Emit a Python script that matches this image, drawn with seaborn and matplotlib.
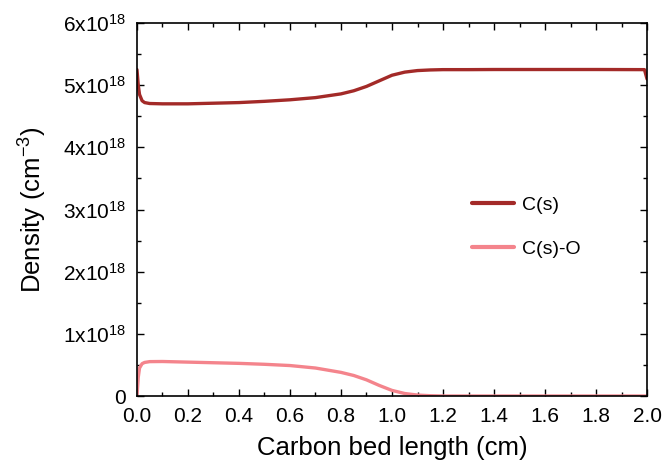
import matplotlib
matplotlib.use("Agg")
import matplotlib.pyplot as plt
import seaborn as sns
import pandas as pd
from matplotlib.ticker import MultipleLocator, FuncFormatter

# Data (density in units of 1e18 cm^-3)
bed_length = [0.0, 0.005, 0.01, 0.02, 0.03, 0.05, 0.1, 0.2, 0.3, 0.4, 0.5, 0.6,
              0.7, 0.8, 0.85, 0.9, 0.95, 1.0, 1.05, 1.1, 1.15, 1.2, 1.3, 1.4,
              1.6, 1.8, 1.99, 2.0]
cs_density = [5.25, 5.0, 4.85, 4.75, 4.72, 4.705, 4.70, 4.70, 4.71, 4.72, 4.74, 4.765,
              4.80, 4.86, 4.91, 4.98, 5.07, 5.16, 5.21, 5.235, 5.245, 5.25, 5.25, 5.252,
              5.252, 5.252, 5.25, 5.10]
cso_density = [0.0, 0.30, 0.45, 0.52, 0.54, 0.553, 0.555, 0.545, 0.535, 0.525, 0.51, 0.49,
               0.45, 0.38, 0.33, 0.26, 0.17, 0.09, 0.04, 0.015, 0.005, 0.0, 0.0, 0.0,
               0.0, 0.0, 0.0, 0.0]
series_names = ["C(s)", "C(s)-O"]
series_colors = ["#a32a28", "#f4848c"]

scale = 1e18
df = pd.concat([
    pd.DataFrame({"x": bed_length, "y": [v * scale for v in cs_density], "series": series_names[0]}),
    pd.DataFrame({"x": bed_length, "y": [v * scale for v in cso_density], "series": series_names[1]}),
])

sns.set_style("ticks")
plt.rcParams["font.family"] = ["Liberation Sans", "DejaVu Sans"]
plt.rcParams["mathtext.fontset"] = "custom"
plt.rcParams["mathtext.rm"] = "Liberation Sans"
plt.rcParams["text.color"] = "black"
plt.rcParams["axes.labelcolor"] = "black"

fig = plt.figure(figsize=(6.63, 4.63), dpi=100)
ax = fig.add_axes([0.2066, 0.1447, 0.7693, 0.8056])

sns.lineplot(data=df, x="x", y="y", hue="series", palette=dict(zip(series_names, series_colors)),
             linewidth=2.4, ax=ax, sort=True, estimator=None)

ax.set_xlim(0, 2.0)
ax.set_ylim(0, 6e18)
ax.xaxis.set_major_locator(MultipleLocator(0.2))
ax.xaxis.set_minor_locator(MultipleLocator(0.1))
ax.yaxis.set_major_locator(MultipleLocator(1e18))
ax.yaxis.set_minor_locator(MultipleLocator(0.5e18))

def yfmt(v, pos):
    n = int(round(v / 1e18))
    if n == 0:
        return "0"
    return r"$\mathregular{%dx10^{18}}$" % n

ax.yaxis.set_major_formatter(FuncFormatter(yfmt))
ax.xaxis.set_major_formatter(FuncFormatter(lambda v, p: "%.1f" % v))

ax.tick_params(which="both", direction="in", top=True, right=True, labelsize=15,
               colors="black", labelcolor="black")
ax.tick_params(axis="x", which="major", pad=8)
ax.tick_params(axis="y", which="major", pad=8)
ax.tick_params(which="major", length=5, width=1)
ax.tick_params(which="minor", length=3, width=1)
for s in ax.spines.values():
    s.set_linewidth(1.2)
    s.set_color("black")

ax.set_xlabel("Carbon bed length (cm)", fontsize=18.5, labelpad=7, color="black")
ax.set_ylabel(r"Density (cm$^{\mathregular{-3}}$)", fontsize=18.5, labelpad=11, color="black")

leg = ax.legend(loc="center left", bbox_to_anchor=(0.657, 0.453), frameon=False,
                fontsize=14, handlelength=2.15, handletextpad=0.4, labelspacing=1.35,
                borderpad=0, borderaxespad=0, title=None)
for line in leg.get_lines():
    line.set_linewidth(3)
for t in leg.get_texts():
    t.set_color("black")

fig.savefig("out.png", dpi=100)
